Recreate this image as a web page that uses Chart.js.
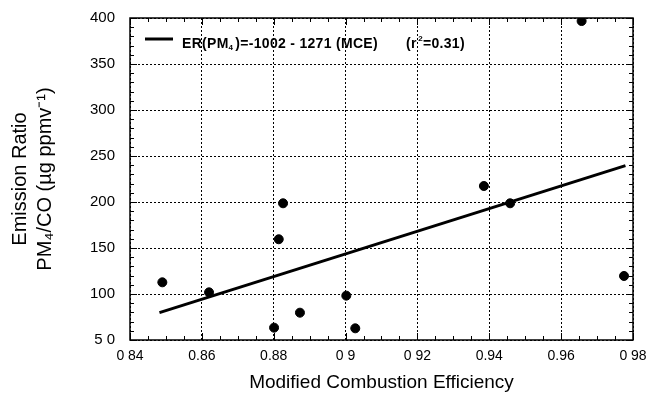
<!DOCTYPE html>
<html>
<head>
<meta charset="utf-8">
<script src="https://cdn.jsdelivr.net/npm/chart.js@4"></script>
<style>
  html, body { margin: 0; padding: 0; background: #fff; }
  #wrap { width: 646px; height: 394px; }
</style>
</head>
<body>
<div id="wrap"><canvas id="chart" width="646" height="394"></canvas></div>
<script>
// measured points
const mce = [0.849, 0.862, 0.8814, 0.8826, 0.8801, 0.8873, 0.9002, 0.9027, 0.9385, 0.9458, 0.9657, 0.9775];
const er = [112.7, 101.8, 159.5, 198.6, 63.4, 79.7, 98.2, 62.7, 217.4, 198.6, 396.7, 119.6];

// regression line end points
const fitX = [0.8482, 0.9779];
const fitY = [79.7, 239.5];

const xTickLabels = ["0 84", "0.86", "0.88", "0 9", "0 92", "0.94", "0.96", "0 98"];
const yTickLabels = ["5 0", "100", "150", "200", "250", "300", "350", "400"];

const FONT = "'Liberation Sans', Arial, sans-serif";

// inward ticks + frame + legend text
const framePlugin = {
    id: "frame",
    afterDraw(chart) {
        const ctx = chart.ctx;
        const a = chart.chartArea;
        const xs = chart.scales.x;
        const ys = chart.scales.y;
        ctx.save();
        ctx.strokeStyle = "#000";
        ctx.lineWidth = 1.5;
        ctx.strokeRect(a.left, a.top, a.right - a.left, a.bottom - a.top);

        ctx.lineWidth = 1;
        ctx.beginPath();
        for (let i = 0; i <= 28; i++) {
            const px = Math.round(xs.getPixelForValue(0.84 + i * 0.005)) + 0.5;
            const len = i % 4 === 0 ? 7 : 4;
            ctx.moveTo(px, a.bottom); ctx.lineTo(px, a.bottom - len);
            ctx.moveTo(px, a.top); ctx.lineTo(px, a.top + len);
        }
        for (let i = 0; i <= 35; i++) {
            const py = Math.round(ys.getPixelForValue(50 + i * 10)) + 0.5;
            const len = i % 5 === 0 ? 7 : 4;
            ctx.moveTo(a.left, py); ctx.lineTo(a.left + len, py);
            ctx.moveTo(a.right, py); ctx.lineTo(a.right - len, py);
        }
        ctx.stroke();

        // legend
        ctx.lineWidth = 3;
        ctx.beginPath();
        ctx.moveTo(145, 39); ctx.lineTo(173, 39);
        ctx.stroke();

        ctx.fillStyle = "#000";
        ctx.textBaseline = "alphabetic";
        ctx.letterSpacing = "0.3px";
        const base = 48;
        const parts = [
            { t: "ER(PM" },
            { t: "4", sub: true },
            { t: ")=-1002 - 1271 (MCE)" },
        ];
        let x = 182;
        parts.forEach(p => {
            ctx.font = p.sub ? "bold 8px " + FONT : "bold 14px " + FONT;
            ctx.fillText(p.t, x, p.sub ? base + 2 : base);
            x += ctx.measureText(p.t).width + (p.sub ? 2 : 0);
        });
        x = 406;
        const parts2 = [
            { t: "(r" },
            { t: "2", sup: true },
            { t: "=0.31)" },
        ];
        parts2.forEach(p => {
            ctx.font = p.sup ? "bold 8px " + FONT : "bold 14px " + FONT;
            if (p.sup) x += 1.5;
            ctx.fillText(p.t, x, p.sup ? base - 7 : base);
            x += ctx.measureText(p.t).width;
        });
        ctx.restore();
    }
};

new Chart(document.getElementById("chart"), {
    type: "scatter",
    data: {
        datasets: [
            {
                label: "data",
                data: mce.map((v, i) => ({ x: v, y: er[i] })),
                backgroundColor: "#000",
                borderColor: "#000",
                pointRadius: 4.5,
                pointHoverRadius: 4.5,
            },
            {
                label: "fit",
                type: "line",
                data: fitX.map((v, i) => ({ x: v, y: fitY[i] })),
                borderColor: "#000",
                borderWidth: 3,
                pointRadius: 0,
                fill: false,
            },
        ],
    },
    options: {
        responsive: false,
        animation: false,
        layout: { padding: { left: 0, right: 13, top: 18, bottom: 0 } },
        plugins: {
            legend: { display: false },
            tooltip: { enabled: false },
        },
        scales: {
            x: {
                type: "linear",
                min: 0.84,
                max: 0.98,
                afterBuildTicks: scale => {
                    scale.ticks = xTickLabels.map((l, i) => ({ value: 0.84 + i * 0.02 }));
                },
                afterFit: scale => {
                    scale.height = 54;
                    scale.paddingLeft = 0;
                    scale.paddingRight = 0;
                },
                ticks: {
                    color: "#000",
                    font: { family: FONT, size: 14 },
                    padding: 8,
                    maxRotation: 0,
                    callback: (v, i) => xTickLabels[i],
                },
                grid: {
                    color: "#000",
                    lineWidth: 1,
                    drawTicks: false,
                },
                border: { display: false, dash: [2, 2] },
                title: {
                    display: true,
                    text: "Modified Combustion Efficiency",
                    color: "#000",
                    font: { family: FONT, size: 19 },
                    padding: { top: 0, bottom: 0 },
                },
            },
            y: {
                min: 50,
                max: 400,
                afterBuildTicks: scale => {
                    scale.ticks = yTickLabels.map((l, i) => ({ value: 50 + i * 50 }));
                },
                afterFit: scale => {
                    scale.width = 130;
                    scale.paddingTop = 0;
                    scale.paddingBottom = 0;
                },
                ticks: {
                    color: "#000",
                    font: { family: FONT, size: 15 },
                    padding: 15,
                    callback: (v, i) => yTickLabels[i],
                },
                grid: {
                    color: "#000",
                    lineWidth: 1,
                    drawTicks: false,
                },
                border: { display: false, dash: [2, 2] },
                title: {
                    display: true,
                    text: ["Emission Ratio", "PM\u2084/CO (\u00b5g ppmv\u207b\u00b9)"],
                    color: "#000",
                    font: { family: FONT, size: 20, lineHeight: 1.25 },
                    padding: { top: 8, bottom: 0 },
                },
            },
        },
    },
    plugins: [framePlugin],
});
</script>
</body>
</html>
